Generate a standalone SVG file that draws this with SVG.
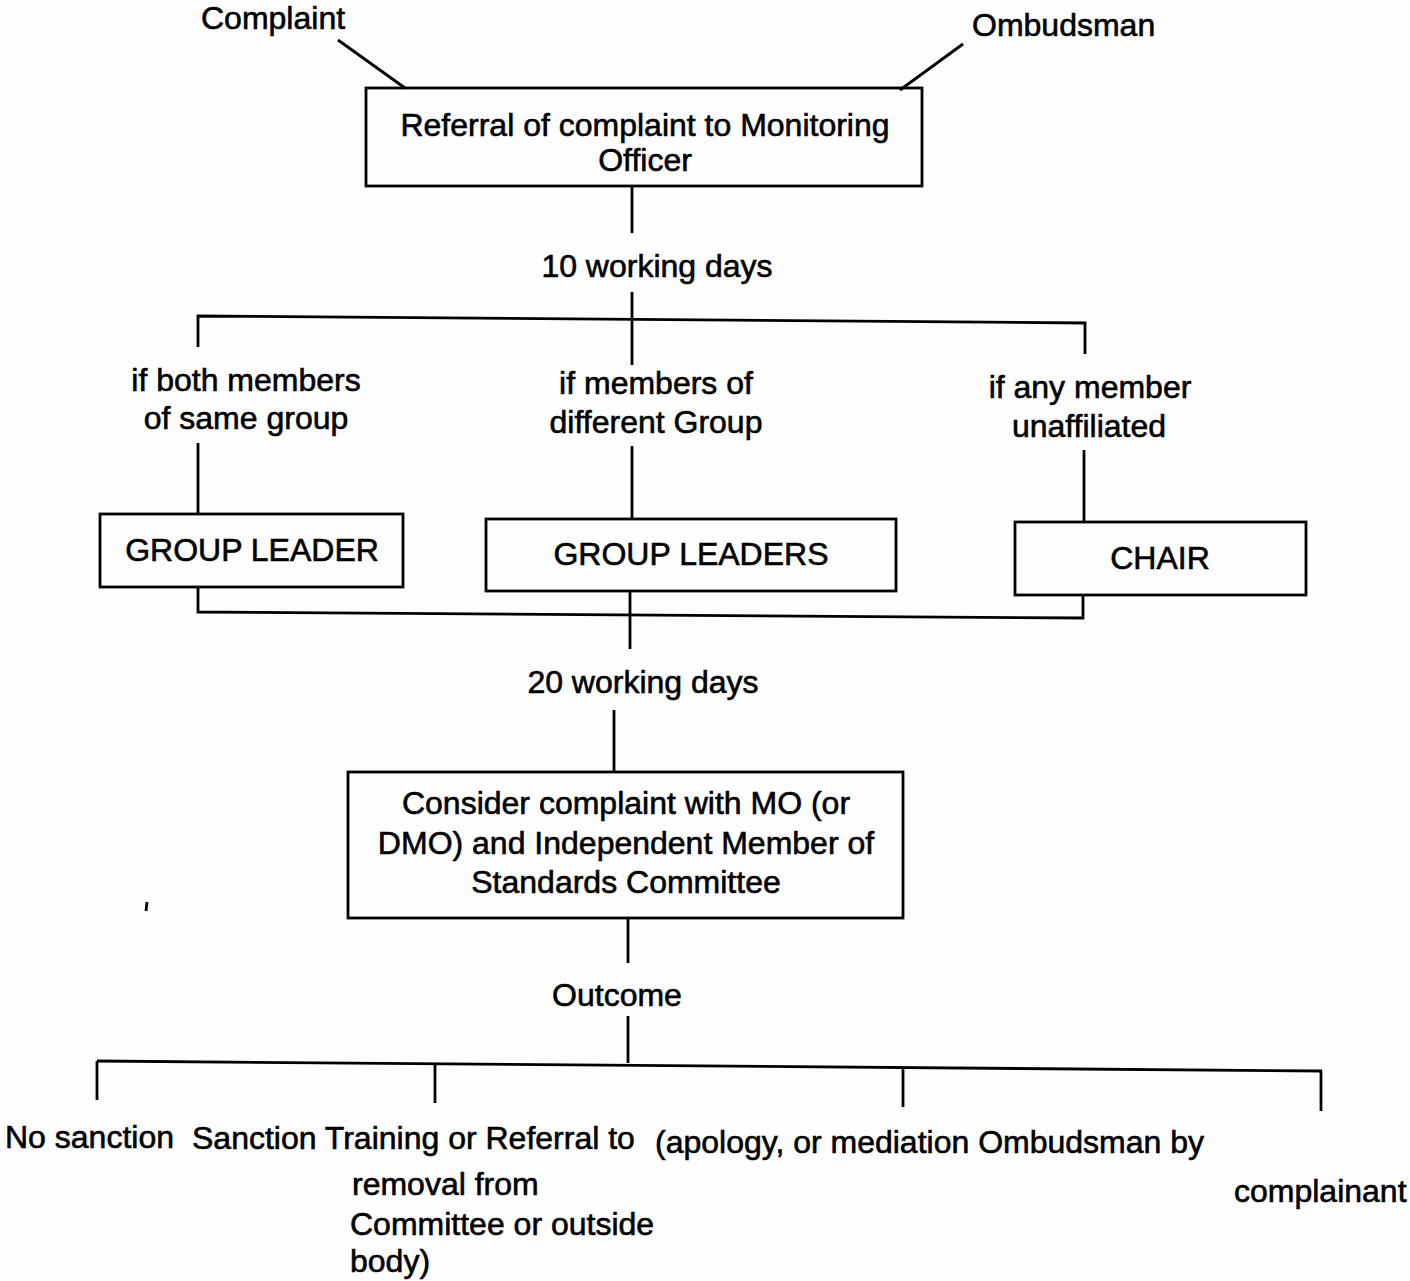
<svg xmlns="http://www.w3.org/2000/svg" width="1410" height="1281" viewBox="0 0 1410 1281">
<style>
text{font-family:"Liberation Sans",Arial,sans-serif;font-size:32px;fill:#000;stroke:#000;stroke-width:0.6}
.c{text-anchor:middle}
.box{fill:none;stroke:#000;stroke-width:2.8}
.ln{fill:none;stroke:#000;stroke-width:2.8}
</style>
<rect width="1410" height="1281" fill="#fdfdfd"/>
<g id="connectors">
<line class="ln" x1="338" y1="40" x2="405" y2="88"/>
<line class="ln" x1="963" y1="44" x2="900" y2="90"/>
<line class="ln" x1="632" y1="186" x2="632" y2="233"/>
<line class="ln" x1="632" y1="292" x2="632" y2="365"/>
<polyline class="ln" points="198,347 198,316 1085,323 1085,354"/>
<line class="ln" x1="198" y1="443" x2="198" y2="514"/>
<line class="ln" x1="632" y1="446" x2="632" y2="519"/>
<line class="ln" x1="1084" y1="450" x2="1084" y2="522"/>
<polyline class="ln" points="198,587 198,612 1083,618 1083,595"/>
<line class="ln" x1="630" y1="591" x2="630" y2="649"/>
<line class="ln" x1="614" y1="710" x2="614" y2="772"/>
<line class="ln" x1="628" y1="918" x2="628" y2="963"/>
<line class="ln" x1="628" y1="1016" x2="628" y2="1063"/>
<line class="ln" x1="97" y1="1061" x2="1322" y2="1071"/>
<line class="ln" x1="97" y1="1061" x2="97" y2="1100"/>
<line class="ln" x1="435" y1="1064" x2="435" y2="1103"/>
<line class="ln" x1="903" y1="1067" x2="903" y2="1107"/>
<line class="ln" x1="1321" y1="1071" x2="1321" y2="1111"/>
<line class="ln" x1="147" y1="902" x2="146" y2="911"/>
</g>
<g id="complaint"><text x="201" y="29">Complaint</text></g>
<g id="ombudsman"><text x="972" y="36">Ombudsman</text></g>
<g id="referral">
<rect class="box" x="366" y="88" width="556" height="98"/>
<text class="c" x="645" y="136">Referral of complaint to Monitoring</text>
<text class="c" x="645" y="171">Officer</text>
</g>
<g id="days10"><text class="c" x="657" y="277">10 working days</text></g>
<g id="cond-same">
<text class="c" x="246" y="391">if both members</text>
<text class="c" x="246" y="429">of same group</text>
</g>
<g id="cond-diff">
<text class="c" x="656" y="394">if members of</text>
<text class="c" x="656" y="433">different Group</text>
</g>
<g id="cond-unaff">
<text class="c" x="1090" y="398">if any member</text>
<text class="c" x="1089" y="437">unaffiliated</text>
</g>
<g id="group-leader">
<rect class="box" x="100" y="514" width="303" height="73"/>
<text class="c" x="252" y="561">GROUP LEADER</text>
</g>
<g id="group-leaders">
<rect class="box" x="486" y="519" width="410" height="72"/>
<text class="c" x="691" y="565">GROUP LEADERS</text>
</g>
<g id="chair">
<rect class="box" x="1015" y="522" width="291" height="73"/>
<text class="c" x="1160" y="569">CHAIR</text>
</g>
<g id="days20"><text class="c" x="643" y="693">20 working days</text></g>
<g id="consider">
<rect class="box" x="348" y="772" width="555" height="146"/>
<text class="c" x="626" y="814">Consider complaint with MO (or</text>
<text class="c" x="626" y="854">DMO) and Independent Member of</text>
<text class="c" x="626" y="893">Standards Committee</text>
</g>
<g id="outcome"><text class="c" x="617" y="1006">Outcome</text></g>
<g id="outcomes">
<text x="5" y="1148">No sanction</text>
<text x="192" y="1149">Sanction Training or Referral to</text>
<text x="655" y="1153">(apology, or mediation Ombudsman by</text>
<text x="352" y="1195">removal from</text>
<text x="350" y="1235">Committee or outside</text>
<text x="350" y="1272">body)</text>
<text x="1234" y="1202">complainant</text>
</g>
</svg>
